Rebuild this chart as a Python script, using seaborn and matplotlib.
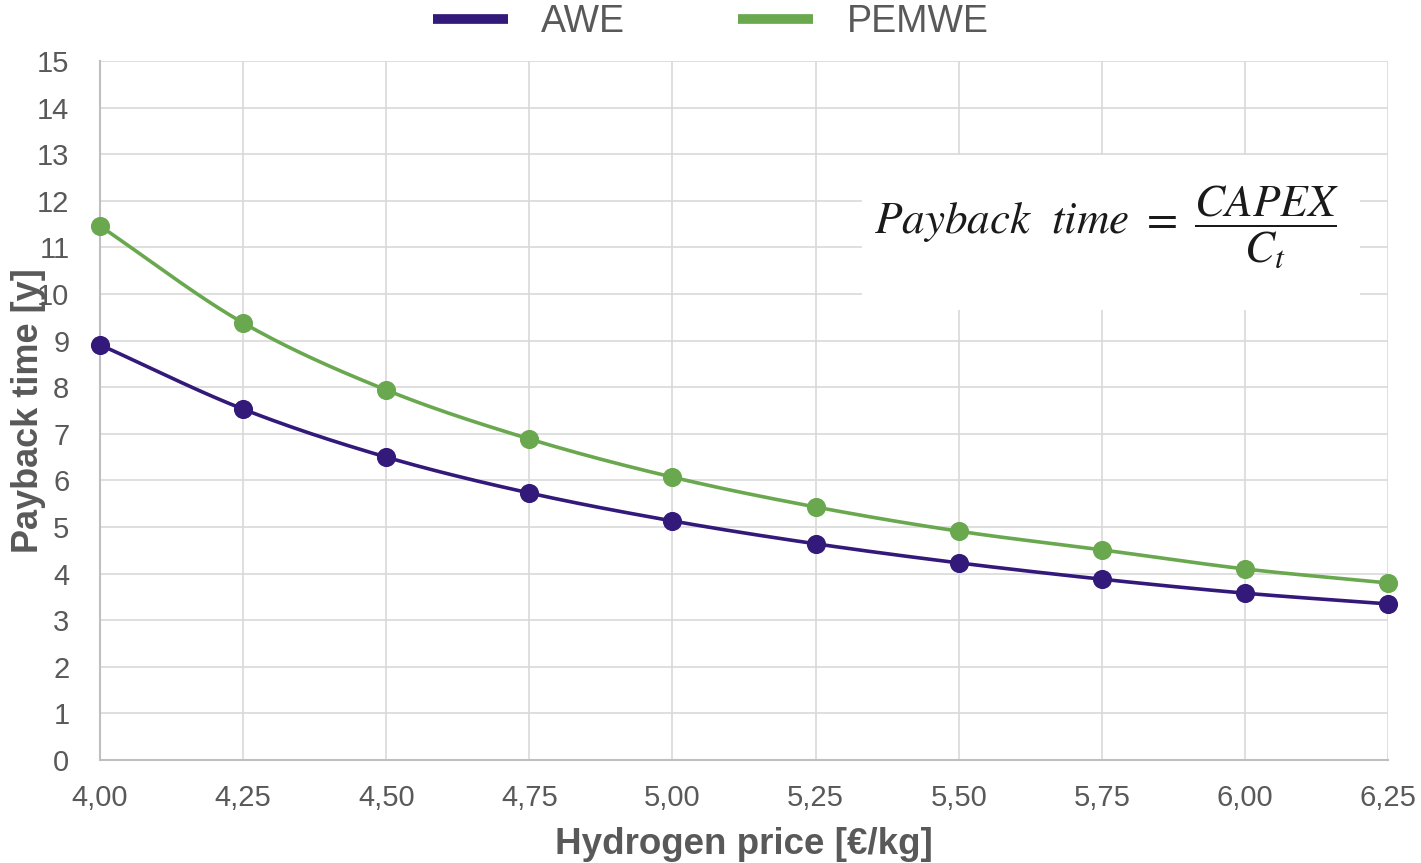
import numpy as np
import pandas as pd
import matplotlib
matplotlib.use("Agg")
import matplotlib.pyplot as plt
import seaborn as sns
from matplotlib.patches import Rectangle
from matplotlib.lines import Line2D

# Hydrogen price [€/kg] and payback time [years]
price = [4.00, 4.25, 4.50, 4.75, 5.00, 5.25, 5.50, 5.75, 6.00, 6.25]
awe = [8.91, 7.53, 6.50, 5.73, 5.13, 4.64, 4.23, 3.88, 3.58, 3.35]
pemwe = [11.46, 9.38, 7.94, 6.89, 6.07, 5.43, 4.91, 4.51, 4.10, 3.80]
series_names = ["AWE", "PEMWE"]
colors = ["#33197a", "#6aa84f"]
x_ticks = price
y_ticks = list(range(0, 16))


def smooth_curve(x, y, n=30):
    """Catmull-Rom style cubic Hermite curve through the given points."""
    x = np.asarray(x, float)
    y = np.asarray(y, float)
    m = np.gradient(y, x)
    xs, ys = [], []
    for i in range(len(x) - 1):
        h = x[i + 1] - x[i]
        t = np.linspace(0, 1, n, endpoint=False)
        h00 = 2 * t**3 - 3 * t**2 + 1
        h10 = t**3 - 2 * t**2 + t
        h01 = -2 * t**3 + 3 * t**2
        h11 = t**3 - t**2
        xs.append(x[i] + t * h)
        ys.append(h00 * y[i] + h10 * h * m[i] + h01 * y[i + 1] + h11 * h * m[i + 1])
    xs.append([x[-1]])
    ys.append([y[-1]])
    return np.concatenate(xs), np.concatenate(ys)


sns.set_theme(style="whitegrid")
plt.rcParams["font.family"] = ["Liberation Sans", "DejaVu Sans"]
plt.rcParams["mathtext.fontset"] = "stix"

fig = plt.figure(figsize=(14.21, 8.63), dpi=100)
ax = fig.add_axes([100 / 1421, 1 - 760 / 863, 1288 / 1421, 699 / 863])
ax.set_facecolor("white")

for name, vals, col in zip(series_names, [awe, pemwe], colors):
    sx, sy = smooth_curve(price, vals)
    sns.lineplot(x=sx, y=sy, ax=ax, color=col, linewidth=2.6, sort=False, zorder=3)
    sns.scatterplot(x=price, y=vals, ax=ax, color=col, s=190, edgecolor=col,
                    linewidth=0, zorder=4, clip_on=False)

ax.set_xlim(4.0, 6.25)
ax.set_ylim(0, 15)
ax.set_xticks(x_ticks)
ax.set_xticklabels([f"{v:.2f}".replace(".", ",") for v in x_ticks])
ax.set_yticks(y_ticks)
ax.grid(True, color="#d9d9d9", linewidth=1.2)
for s in ["top", "right"]:
    ax.spines[s].set_visible(False)
for s in ["left", "bottom"]:
    ax.spines[s].set_color("#bfbfbf")
    ax.spines[s].set_linewidth(1.5)
ax.tick_params(axis="both", length=0, labelsize=21, labelcolor="#595959")
ax.tick_params(axis="x", pad=17)
ax.tick_params(axis="y", pad=22)

ax.set_xlabel("Hydrogen price [€/kg]", fontsize=26.5, fontweight="bold",
              color="#595959")
ax.xaxis.set_label_coords(0.5, -0.096)
ax.set_ylabel("Payback time [y]", fontsize=26, fontweight="bold",
              color="#595959")
ax.yaxis.set_label_coords(-0.042, 0.5)

# Formula panel
ax.add_patch(Rectangle((862 / 1421, 1 - 310 / 863), 498 / 1421, 155 / 863,
                       transform=fig.transFigure, facecolor="white",
                       edgecolor="none", zorder=5))
fig.text(1106 / 1421, 1 - 227 / 863,
         r"$Payback\ \ time\ =\ \dfrac{CAPEX}{C_t}$",
         fontsize=32.5, ha="center", va="center", color="#1a1a1a", zorder=6)

handles = [Line2D([0], [0], color=c, linewidth=7, solid_capstyle="butt")
           for c in colors]
leg = fig.legend(handles, series_names, loc="upper center",
                 bbox_to_anchor=(0.5, 1.034), ncol=2, frameon=False,
                 fontsize=27, handlelength=2.0, handletextpad=0.9,
                 columnspacing=3.0, labelcolor="#595959")

fig.savefig("out.png", dpi=100)
